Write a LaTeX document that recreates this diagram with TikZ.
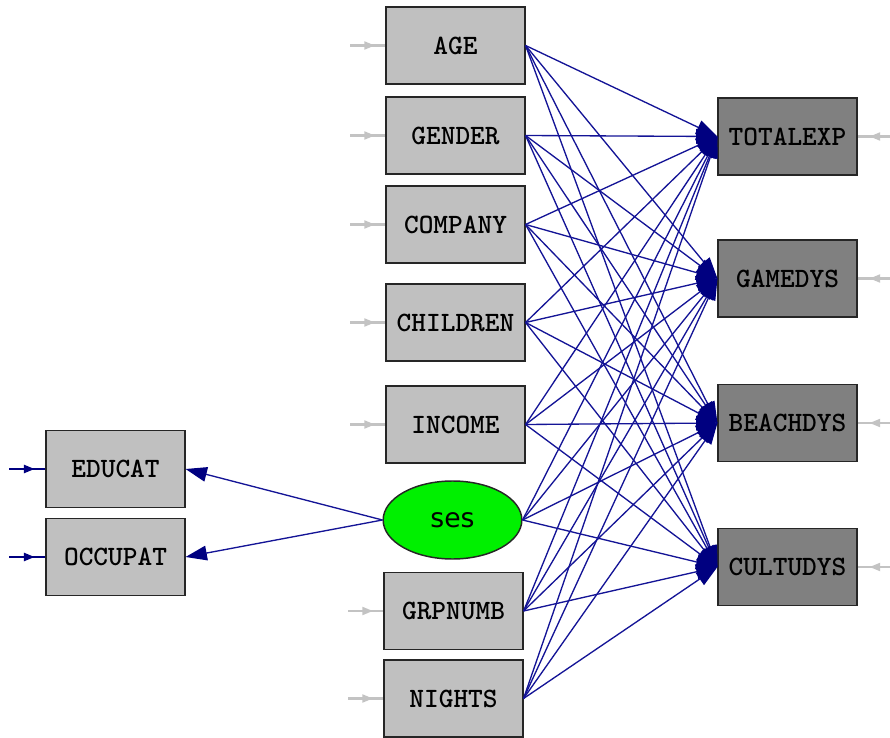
\documentclass[tikz,border=0pt]{standalone}
\usepackage{fontspec}
\newfontfamily\sesfont{DejaVu Sans}
\usetikzlibrary{arrows.meta,shapes.geometric,decorations.markings}

\definecolor{pathblue}{RGB}{20,20,150}
\definecolor{headblue}{RGB}{0,0,128}
\definecolor{boxgray}{RGB}{192,192,192}
\definecolor{depgray}{RGB}{128,128,128}
\definecolor{errgray}{RGB}{195,195,195}
\definecolor{latgreen}{RGB}{0,240,0}

\tikzset{
  obsbox/.style={draw=black!85,line width=1.1pt,fill=boxgray,
    minimum width=104pt,minimum height=57.5pt,inner sep=0pt,
    font=\ttfamily\bfseries\fontsize{21}{21}\selectfont\addfontfeature{LetterSpace=4}},
  depbox/.style={obsbox,fill=depgray},
  latent/.style={ellipse,draw=black!85,line width=1.1pt,fill=latgreen,
    minimum width=104pt,minimum height=58.5pt,inner sep=0pt,
    font=\sesfont\fontsize{20}{20}\selectfont},
  relarr/.style={draw=pathblue,line width=1pt,
    -{Triangle[length=16pt,width=11pt,color=headblue]}},
  errarr/.style={draw=#1,line width=1.6pt,postaction={decorate},
    decoration={markings,mark=at position 0.7 with
      {\arrow{Triangle[length=8pt,width=6pt]}}}},
  errarr/.default=errgray
}

\begin{document}
\begin{tikzpicture}[x=0.75pt,y=-0.75pt]
  \useasboundingbox (0,0) rectangle (890,738);
  % x variables
  \node[obsbox] (AGE) at (455.5,45.5) {AGE};
  \node[obsbox] (GENDER) at (455.5,135.5) {GENDER};
  \node[obsbox] (COMPANY) at (455.5,224.5) {COMPANY};
  \node[obsbox] (CHILDREN) at (455.5,322.5) {CHILDREN};
  \node[obsbox] (INCOME) at (455.5,424.5) {INCOME};
  \node[latent] (ses) at (452.5,520) {ses};
  \node[obsbox] (GRPNUMB) at (453.5,611) {GRPNUMB};
  \node[obsbox] (NIGHTS) at (453.5,698.5) {NIGHTS};
  % indicators of ses
  \node[obsbox] (EDUCAT) at (115.5,469) {EDUCAT};
  \node[obsbox] (OCCUPAT) at (115.5,557) {OCCUPAT};
  % y variables
  \node[depbox] (TOTALEXP) at (787.5,136.5) {TOTALEXP};
  \node[depbox] (GAMEDYS) at (787.5,278.5) {GAMEDYS};
  \node[depbox] (BEACHDYS) at (787.5,423) {BEACHDYS};
  \node[depbox] (CULTUDYS) at (787.5,567) {CULTUDYS};

  \foreach \s in {AGE,GENDER,COMPANY,CHILDREN,INCOME,ses,GRPNUMB,NIGHTS}
    \foreach \t in {TOTALEXP,GAMEDYS,BEACHDYS,CULTUDYS}
      \draw[relarr] (\s.east) -- (\t.west);
  \draw[relarr] (ses.west) -- (EDUCAT.east);
  \draw[relarr] (ses.west) -- (OCCUPAT.east);

  % error terms
  \foreach \s in {AGE,GENDER,COMPANY,CHILDREN,INCOME,GRPNUMB,NIGHTS}{
    \path (\s.west) ++(-35,0) coordinate (e\s);
    \draw[errarr] (e\s) -- (\s.west);
  }
  \foreach \t in {TOTALEXP,GAMEDYS,BEACHDYS,CULTUDYS}{
    \path (\t.east) ++(40,0) coordinate (e\t);
    \draw[errarr] (e\t) -- (\t.east);
  }
  \foreach \s in {EDUCAT,OCCUPAT}{
    \path (\s.west) ++(-36,0) coordinate (e\s);
    \draw[errarr=headblue] (e\s) -- (\s.west);
  }
\end{tikzpicture}
\end{document}
